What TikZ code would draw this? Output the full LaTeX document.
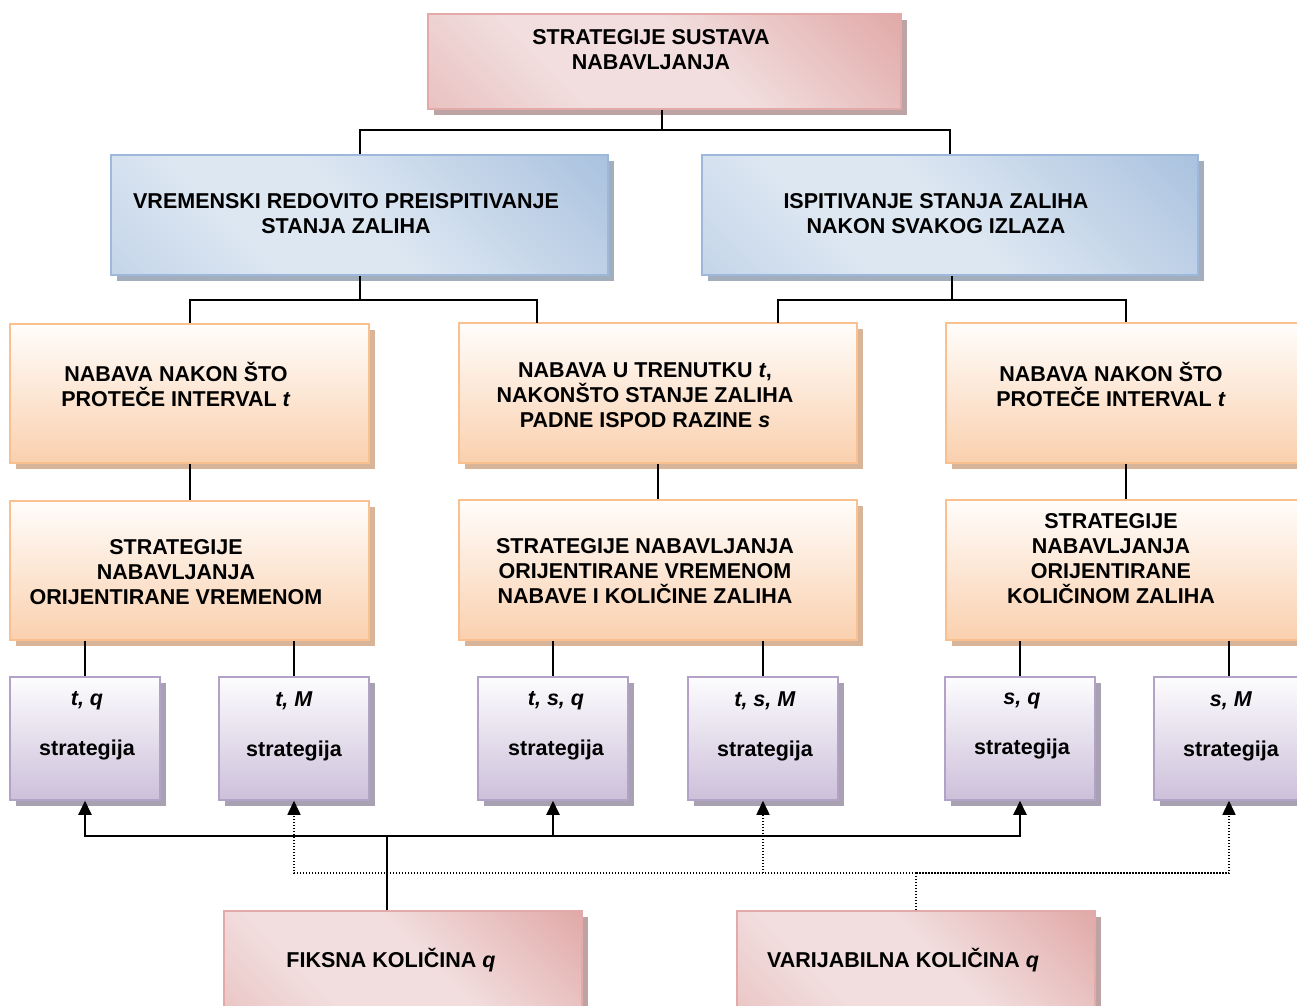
\documentclass[tikz,border=0pt]{standalone}
\usepackage{fontspec}
\setmainfont{Liberation Sans}
\usetikzlibrary{arrows.meta,shadows}

\definecolor{pinkD}{HTML}{D8908E}
\definecolor{pinkM}{HTML}{E2AEAD}
\definecolor{pinkL}{HTML}{F2DEDE}
\definecolor{pinkE}{HTML}{E3AAA9}
\definecolor{pinkS}{HTML}{BCA4A4}
\definecolor{blueD}{HTML}{95B3D7}
\definecolor{blueM}{HTML}{B3C8E2}
\definecolor{blueL}{HTML}{DDE7F2}
\definecolor{blueE}{HTML}{9DB8DA}
\definecolor{blueS}{HTML}{A3AEBC}
\definecolor{orangeT}{HTML}{FFFDFB}
\definecolor{orangeB}{HTML}{FAD0AE}
\definecolor{orangeE}{HTML}{FAC090}
\definecolor{orangeS}{HTML}{D8B598}
\definecolor{purpleT}{HTML}{FDFCFE}
\definecolor{purpleB}{HTML}{CCC0DA}
\definecolor{purpleE}{HTML}{B3A2C7}
\definecolor{purpleS}{HTML}{A8A1B2}

\pgfdeclarehorizontalshading{pinkband}{100bp}{color(0bp)=(pinkM); color(35bp)=(pinkL); color(55bp)=(pinkL); color(100bp)=(pinkD)}
\pgfdeclarehorizontalshading{blueband}{100bp}{color(0bp)=(blueM); color(35bp)=(blueL); color(50bp)=(blueL); color(100bp)=(blueD)}

\tikzset{
  sz/.style 2 args={minimum width=#1*0.5pt, minimum height=#2*0.5pt},
  box/.style={draw, line width=0.75pt, inner sep=0pt},
  pinkbox/.style={box, draw=pinkE, shading=pinkband, shading angle=45,
    drop shadow={shadow xshift=3pt, shadow yshift=-3pt, fill=pinkS, opacity=1}},
  bluebox/.style={box, draw=blueE, shading=blueband, shading angle=45,
    drop shadow={shadow xshift=3pt, shadow yshift=-3pt, fill=blueS, opacity=1}},
  orangebox/.style={box, draw=orangeE, top color=orangeT, bottom color=orangeB,
    drop shadow={shadow xshift=3pt, shadow yshift=-3pt, fill=orangeS, opacity=1}},
  purplebox/.style={box, draw=purpleE, top color=purpleT, bottom color=purpleB,
    drop shadow={shadow xshift=3pt, shadow yshift=-3pt, fill=purpleS, opacity=1}},
  lbl/.style={font=\fontsize{10.75}{12.5}\selectfont\bfseries, align=center, inner sep=0pt},
  link/.style={line width=1pt},
  dlink/.style={line width=0.75pt, dash pattern=on 0.75pt off 0.75pt},
  arr/.style={link, -{Triangle[width=6.5pt,length=7pt]}},
  darr/.style={dlink, -{Triangle[width=6.5pt,length=7pt]}}
}

\begin{document}
\begin{tikzpicture}[x=0.5pt, y=-0.5pt]
    \useasboundingbox (0,0) rectangle (1297,1006);
    \clip (0,0) rectangle (1297,1006);

    \node[pinkbox, sz={473}{95}] (sustav) at (664.5,61.5) {};
    \node[lbl] (sustavT) at (651,50) {STRATEGIJE SUSTAVA\\NABAVLJANJA};

    \node[bluebox, sz={497}{120}] (vremenski) at (359.5,215) {};
    \node[lbl] (vremenskiT) at (346,214) {VREMENSKI REDOVITO PREISPITIVANJE\\STANJA ZALIHA};
    \node[bluebox, sz={496}{120}] (ispitivanje) at (950,215) {};
    \node[lbl] (ispitivanjeT) at (936,214) {ISPITIVANJE STANJA ZALIHA\\NAKON SVAKOG IZLAZA};

    \node[orangebox, sz={359}{139}] (intervalL) at (189.5,393.5) {};
    \node[lbl] (intervalLT) at (176,384) {NABAVA NAKON ŠTO\\PROTEČE INTERVAL \textit{t}};
    \node[orangebox, sz={398}{140}] (trenutak) at (658,393) {};
    \node[lbl] (trenutakT) at (645,395) {NABAVA U TRENUTKU \textit{t},\\NAKONŠTO STANJE ZALIHA\\PADNE ISPOD RAZINE \textit{s}};
    \node[orangebox, sz={359}{140}] (intervalR) at (1125.5,393) {};
    \node[lbl] (intervalRT) at (1111,384) {NABAVA NAKON ŠTO\\PROTEČE INTERVAL \textit{t}};

    \node[orangebox, sz={359}{139}] (orVrijeme) at (189.5,570.5) {};
    \node[lbl] (orVrijemeT) at (176,572) {STRATEGIJE\\NABAVLJANJA\\ORIJENTIRANE VREMENOM};
    \node[orangebox, sz={398}{140}] (orOboje) at (658,570) {};
    \node[lbl] (orObojeT) at (645,571) {STRATEGIJE NABAVLJANJA\\ORIJENTIRANE VREMENOM\\NABAVE I KOLIČINE ZALIHA};
    \node[orangebox, sz={359}{140}] (orKolicina) at (1125.5,570) {};
    \node[lbl] (orKolicinaT) at (1111,559) {STRATEGIJE\\NABAVLJANJA\\ORIJENTIRANE\\KOLIČINOM ZALIHA};

    \node[purplebox, sz={150}{123}] (tq) at (85,738.5) {};
    \node[lbl] (tqT) at (87,726) {\textit{t, q}\\[12.5pt]strategija};
    \node[purplebox, sz={150}{123}] (tM) at (294,738.5) {};
    \node[lbl] (tMT) at (294,726) {\textit{t, M}\\[12.5pt]strategija};
    \node[purplebox, sz={150}{123}] (tsq) at (553,738.5) {};
    \node[lbl] (tsqT) at (556,726) {\textit{t, s, q}\\[12.5pt]strategija};
    \node[purplebox, sz={150}{123}] (tsM) at (763,738.5) {};
    \node[lbl] (tsMT) at (765,726) {\textit{t, s, M}\\[12.5pt]strategija};
    \node[purplebox, sz={150}{123}] (sq) at (1020,738.5) {};
    \node[lbl] (sqT) at (1022,726) {\textit{s, q}\\[12.5pt]strategija};
    \node[purplebox, sz={150}{123}] (sM) at (1229,738.5) {};
    \node[lbl] (sMT) at (1231,726) {\textit{s, M}\\[12.5pt]strategija};

    \node[pinkbox, sz={358}{119}] (fiksna) at (403,970.5) {};
    \node[lbl] (fiksnaT) at (391,960) {FIKSNA KOLIČINA \textit{q}};
    \node[pinkbox, sz={358}{119}] (varijabilna) at (916,970.5) {};
    \node[lbl] (varijabilnaT) at (903,960) {VARIJABILNA KOLIČINA \textit{q}};

    \coordinate (vrh) at (662,130);
    \draw[link] (sustav.south -| vrh) -- (vrh);
    \draw[link] (vremenski.north) |- (vrh) -| (ispitivanje.north);

    \coordinate (lijevo) at (360,300);
    \coordinate (trenL) at (537,323);
    \draw[link] (vremenski.south -| lijevo) -- (lijevo);
    \draw[link] (intervalL.north) |- (lijevo) -| (trenL);
    \coordinate (desno) at (952,300);
    \coordinate (trenR) at (778,323);
    \draw[link] (ispitivanje.south -| desno) -- (desno);
    \draw[link] (trenR) |- (desno) -| (intervalR.north);

    \draw[link] (intervalL) -- (orVrijeme);
    \draw[link] (trenutak) -- (orOboje);
    \draw[link] (intervalR) -- (orKolicina);

    \draw[link] (orVrijeme.south -| tq.north) -- (tq.north);
    \draw[link] (orVrijeme.south -| tM.north) -- (tM.north);
    \draw[link] (orOboje.south -| tsq.north) -- (tsq.north);
    \draw[link] (orOboje.south -| tsM.north) -- (tsM.north);
    \draw[link] (orKolicina.south -| sq.north) -- (sq.north);
    \draw[link] (orKolicina.south -| sM.north) -- (sM.north);

    \coordinate (fj) at (387,836);
    \draw[link] (fiksna.north -| fj) -- (fj);
    \draw[arr] (fj) -| (tq.south);
    \draw[arr] (fj) -| (tsq.south);
    \draw[arr] (fj) -| (sq.south);

    \coordinate (vj) at (916,873);
    \draw[dlink] (varijabilna.north) -- (vj);
    \draw[darr] (vj) -| (tM.south);
    \draw[darr] (vj) -| (tsM.south);
    \draw[darr] (vj) -| (sM.south);
\end{tikzpicture}
\end{document}
